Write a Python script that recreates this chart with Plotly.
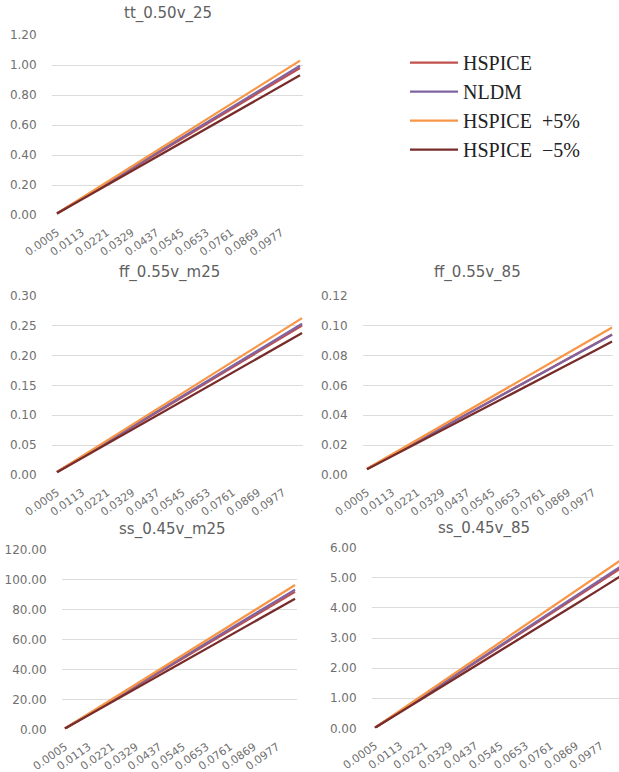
import plotly.graph_objects as go

# ---- data -------------------------------------------------------------
load = [0.0005, 0.0113, 0.0221, 0.0329, 0.0437, 0.0545, 0.0653, 0.0761,
        0.0869, 0.0977, 0.1058]
tick_vals = [0.0005, 0.0113, 0.0221, 0.0329, 0.0437, 0.0545, 0.0653,
             0.0761, 0.0869, 0.0977]
tick_text = ["0.0005", "0.0113", "0.0221", "0.0329", "0.0437", "0.0545",
             "0.0653", "0.0761", "0.0869", "0.0977"]

series_names = ["HSPICE", "NLDM", "HSPICE\u00a0 +5%", "HSPICE\u00a0 \u22125%"]
series_colors = ["#C0504D", "#8064A2", "#F79646", "#772C2A"]

tt_hspice = [0.010, 0.110, 0.209, 0.309, 0.408, 0.508, 0.608, 0.707, 0.806, 0.906, 0.980]
tt_nldm   = [0.010, 0.111, 0.212, 0.313, 0.414, 0.515, 0.616, 0.717, 0.818, 0.919, 0.995]
tt_plus5  = [0.0105, 0.1155, 0.219, 0.324, 0.428, 0.533, 0.638, 0.742, 0.846, 0.951, 1.029]
tt_minus5 = [0.0095, 0.1045, 0.199, 0.294, 0.388, 0.483, 0.578, 0.672, 0.766, 0.861, 0.931]

ffm_hspice = [0.0050, 0.0300, 0.0550, 0.0800, 0.1060, 0.1310, 0.1560, 0.1810, 0.2060, 0.2310, 0.2500]
ffm_nldm   = [0.0050, 0.0303, 0.0557, 0.0810, 0.1073, 0.1326, 0.1580, 0.1833, 0.2086, 0.2340, 0.2530]
ffm_plus5  = [0.00525, 0.0315, 0.0578, 0.0840, 0.1113, 0.1376, 0.1638, 0.1900, 0.2163, 0.2426, 0.2625]
ffm_minus5 = [0.00475, 0.0285, 0.0523, 0.0760, 0.1007, 0.1245, 0.1482, 0.1720, 0.1957, 0.2195, 0.2375]

ffh_hspice = [0.0040, 0.0132, 0.0225, 0.0317, 0.0409, 0.0502, 0.0594, 0.0686, 0.0778, 0.0871, 0.0940]
ffh_nldm   = [0.0040, 0.0132, 0.0224, 0.0316, 0.0408, 0.0500, 0.0592, 0.0684, 0.0776, 0.0868, 0.0938]
ffh_plus5  = [0.0042, 0.0139, 0.0236, 0.0333, 0.0429, 0.0527, 0.0624, 0.0720, 0.0817, 0.0915, 0.0987]
ffh_minus5 = [0.0038, 0.0125, 0.0214, 0.0301, 0.0389, 0.0477, 0.0564, 0.0652, 0.0739, 0.0827, 0.0893]

ssm_hspice = [0.50, 9.9, 19.3, 28.6, 38.0, 47.4, 56.8, 66.2, 75.6, 84.9, 92.0]
ssm_nldm   = [0.50, 10.0, 19.5, 29.0, 38.5, 48.0, 57.5, 67.0, 76.5, 86.0, 93.5]
ssm_plus5  = [0.53, 10.4, 20.3, 30.0, 39.9, 49.8, 59.6, 69.5, 79.4, 89.1, 96.6]
ssm_minus5 = [0.48, 9.4, 18.3, 27.2, 36.1, 45.0, 54.0, 62.9, 71.8, 80.7, 87.4]

ssh_hspice = [0.020, 0.56, 1.10, 1.65, 2.19, 2.73, 3.27, 3.81, 4.35, 4.89, 5.30]
ssh_nldm   = [0.020, 0.565, 1.11, 1.66, 2.21, 2.75, 3.30, 3.85, 4.39, 4.94, 5.36]
ssh_plus5  = [0.021, 0.59, 1.16, 1.73, 2.30, 2.87, 3.43, 4.00, 4.57, 5.13, 5.57]
ssh_minus5 = [0.019, 0.53, 1.05, 1.57, 2.08, 2.59, 3.11, 3.62, 4.13, 4.65, 5.04]

panel_titles = ["tt_0.50v_25", "ff_0.55v_m25", "ff_0.55v_85",
                "ss_0.45v_m25", "ss_0.45v_85"]
panel_series = [
    [tt_hspice, tt_nldm, tt_plus5, tt_minus5],
    [ffm_hspice, ffm_nldm, ffm_plus5, ffm_minus5],
    [ffh_hspice, ffh_nldm, ffh_plus5, ffh_minus5],
    [ssm_hspice, ssm_nldm, ssm_plus5, ssm_minus5],
    [ssh_hspice, ssh_nldm, ssh_plus5, ssh_minus5],
]
y_ranges = [[0, 1.2], [0, 0.30], [0, 0.12], [0, 120], [0, 6]]
y_dticks = [0.2, 0.05, 0.02, 20, 1]

# ---- layout geometry (pixels) ------------------------------------------
W, H = 619, 772
plot_boxes = [  # left, right, top, bottom
    (52, 303, 35, 215),
    (52, 303, 295.7, 475),
    (363, 613, 295.7, 475),
    (62, 297, 550, 729.3),
    (372, 619, 547.7, 728.3),
]
x_ranges = [[-0.00167, 0.1071], [-0.00165, 0.1062], [-0.00122, 0.1062],
            [-0.00087, 0.1067], [-0.00079, 0.1054]]
title_pos = [(168, 14), (170, 273), (477, 273), (172, 529), (484, 528)]

TICK_FONT = dict(family="DejaVu Sans", size=12, color="#707070")
XTICK_FONT = dict(family="DejaVu Sans", size=11, color="#707070")
GRID = "#dcdcdc"

fig = go.Figure()
layout = dict(
    width=W, height=H,
    margin=dict(l=0, r=0, t=0, b=0, autoexpand=False),
    paper_bgcolor="white", plot_bgcolor="white",
    showlegend=True,
    legend=dict(x=405 / W, y=1 - 43 / H, xanchor="left", yanchor="top",
                font=dict(family="'Liberation Serif', 'Times New Roman', serif",
                          size=20, color="#222222"),
                bgcolor="rgba(0,0,0,0)", itemwidth=48, tracegroupgap=0),
    annotations=[],
)

for p in range(5):
    sfx = "" if p == 0 else str(p + 1)
    l, r, t, b = plot_boxes[p]
    layout["xaxis" + sfx] = dict(
        domain=[l / W, r / W], range=x_ranges[p], anchor="y" + sfx,
        tickmode="array", tickvals=tick_vals, ticktext=tick_text,
        tickangle=-35, tickfont=XTICK_FONT, automargin=False,
        showgrid=False, zeroline=False, showline=False,
        ticks="outside", ticklen=6, tickcolor="rgba(0,0,0,0)",
    )
    layout["yaxis" + sfx] = dict(
        domain=[1 - b / H, 1 - t / H], range=y_ranges[p], anchor="x" + sfx,
        dtick=y_dticks[p], tick0=0, tickformat=".2f", tickfont=TICK_FONT,
        automargin=False,
        showgrid=True, gridcolor=GRID, gridwidth=1, zeroline=False, showline=False,
        ticks="outside", ticklen=12, tickcolor="rgba(0,0,0,0)",
    )
    for k in range(4):
        fig.add_trace(go.Scatter(
            x=load, y=panel_series[p][k], mode="lines",
            name=series_names[k], legendgroup=series_names[k],
            showlegend=(p == 0),
            line=dict(color=series_colors[k], width=2.25),
            xaxis="x" + sfx, yaxis="y" + sfx,
        ))
    tx, ty = title_pos[p]
    layout["annotations"].append(dict(
        text=panel_titles[p], x=tx / W, y=1 - ty / H, xref="paper", yref="paper",
        xanchor="center", yanchor="middle", showarrow=False,
        font=dict(family="DejaVu Sans", size=15, color="#606060"),
    ))

fig.update_layout(**layout)
fig.write_html("out.html")
